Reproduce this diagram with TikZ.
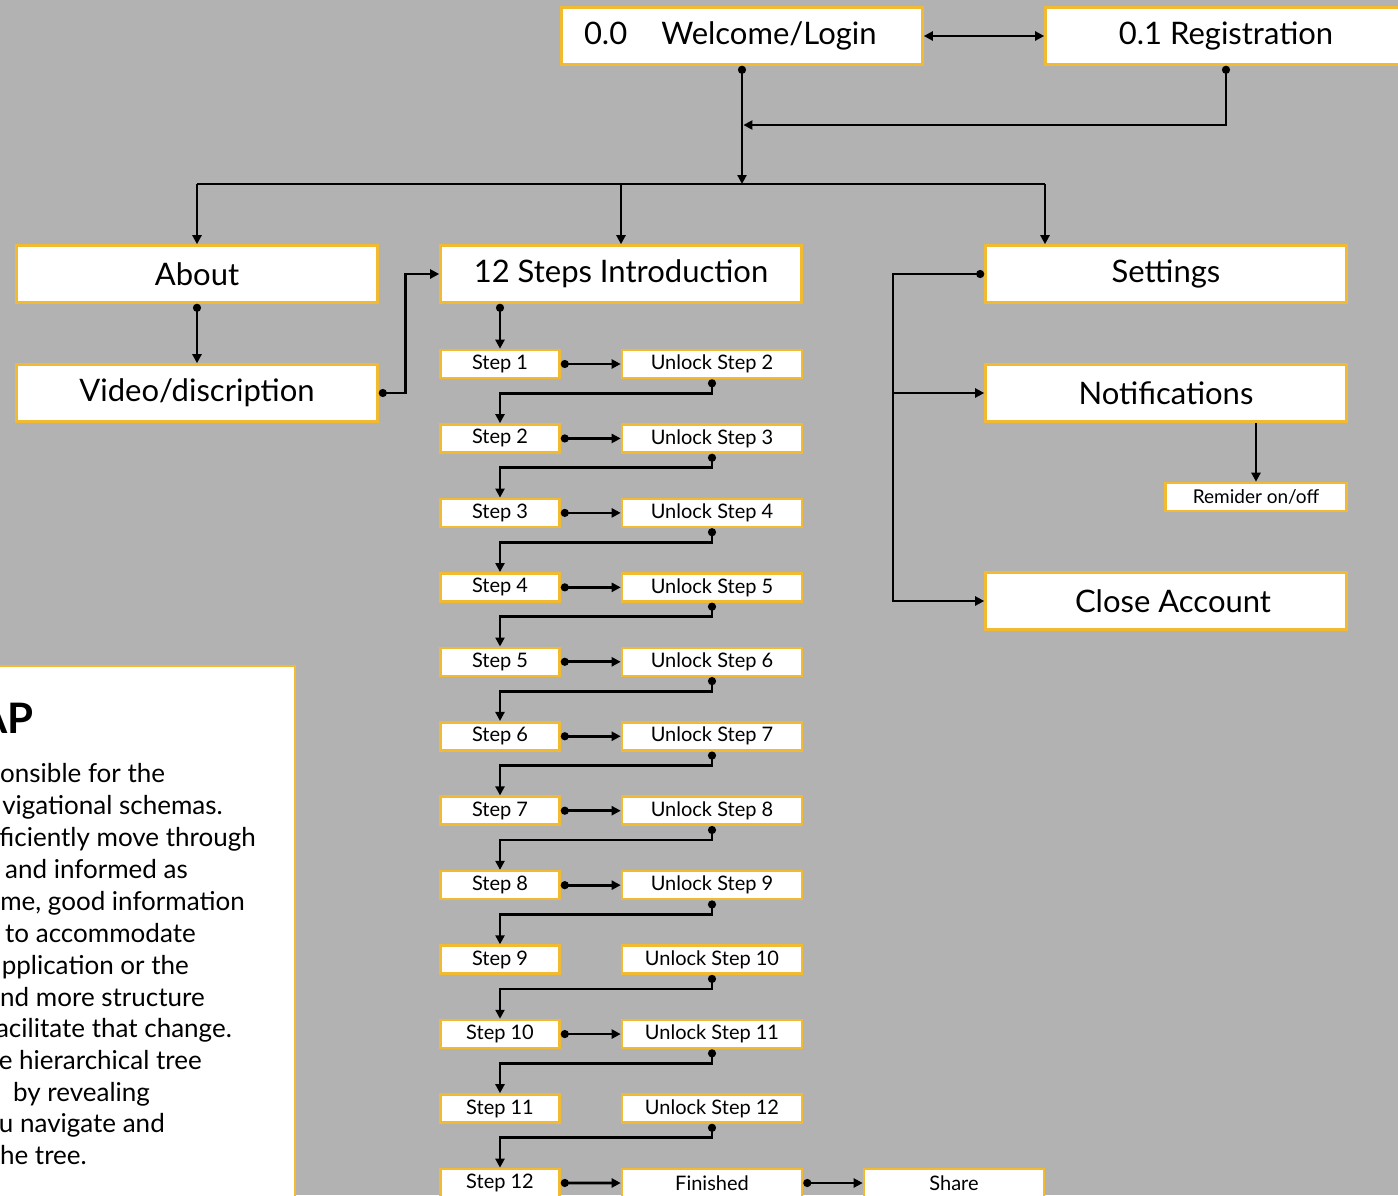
\documentclass[tikz,border=0pt]{standalone}
\usepackage{fontspec}
\setmainfont{Lato}
\usetikzlibrary{arrows.meta,calc}
\definecolor{bgc}{RGB}{178,178,178}
\definecolor{boxor}{RGB}{241,186,48}
\tikzset{
  box/.style={draw=boxor, line width=2.6pt, fill=white, inner sep=0pt, text=black},
  big/.style={box, minimum width=361pt, minimum height=57pt, font=\fontsize{31}{35}\selectfont},
  sm/.style={box, minimum height=28pt, font=\fontsize{20}{22}\selectfont},
  lnk/.style={line width=2.8pt, draw=black},
  conn/.style={lnk, -{Triangle[length=9pt,width=9pt]}},
  dconn/.style={lnk, {Circle[length=8pt]}-{Triangle[length=9pt,width=9pt]}},
  para/.style={anchor=base east, inner sep=0pt, font=\fontsize{26}{30}\selectfont},
  paral/.style={para, anchor=base west},
}
\begin{document}
\begin{tikzpicture}[x=1pt,y=-1pt]
\fill[bgc] (0,0) rectangle (1398,1195);
\useasboundingbox (0,0) rectangle (1398,1195);

% left text panel
\draw[boxor, line width=2.6pt, fill=white] (-20,666) rectangle (295,1220);
\node[anchor=base east, inner sep=0pt, font=\fontsize{42}{46}\selectfont\bfseries] (ttl) at (34,733) {AP};
\node[paral] (p1) at (0,782) {onsible for the};
\node[para] (p2) at (223,814) {vigational schemas.};
\node[para] (p3) at (256,846) {ficiently move through};
\node[paral] (p4) at (5,878) {and informed as};
\node[para] (p5) at (245,910) {me, good information};
\node[paral] (p6) at (5,942) {to accommodate};
\node[para] (p7) at (189,974) {pplication or the};
\node[paral] (p8) at (0,1006) {nd more structure};
\node[para] (p9) at (232,1037) {acilitate that change.};
\node[para] (p10) at (202,1069) {e hierarchical tree};
\node[paral] (p11) at (13,1101) {by revealing};
\node[para] (p12) at (165,1132) {u navigate and};
\node[para] (p13) at (87,1164) {he tree.};

% top boxes
\node[big, text width=316pt, align=left] (wel) at (742,36) {0.0\hspace{1.1em}Welcome/Login};
\node[big] (reg) at (1226,36) {0.1 Registration};

\node[big] (about) at (197,274) {About};
\node[big] (intro) at (621,274) {12 Steps Introduction};
\node[big] (set) at (1166,274) {Settings};
\node[big] (vid) at (197,393) {Video/discription};
\node[big] (noti) at (1166,393) {Notifications};
\node[sm, minimum width=181pt, font=\fontsize{19}{21}\selectfont] (rem) at (1256,497) {Remider on/off};
\node[big] (clo) at (1166,601) {\hspace{14pt}Close Account};

% steps
\foreach \i in {1,...,12}{
  \pgfmathsetmacro\yy{364+(\i-1)*74.45}
  \node[sm, minimum width=119pt] (s\i) at (500,\yy) {Step \i};
}
\foreach \j in {2,...,12}{
  \pgfmathsetmacro\yy{364+(\j-2)*74.45}
  \node[sm, minimum width=180pt] (u\j) at (712,\yy) {Unlock Step \j};
}
\node[sm, minimum width=180pt] (fin) at (712,1183) {Finished};
\node[sm, minimum width=180pt] (share) at (954,1183) {Share};

% connectors top
\draw[lnk, {Triangle[length=9pt,width=9pt]}-{Triangle[length=9pt,width=9pt]}] (wel.east) -- (reg.west);
\coordinate (hub) at (742,184);
\coordinate (sa) at (1045,184);
\coordinate (mj) at (742,125);
\draw[dconn] (wel.south) -- (hub);
\draw[dconn] (reg.south) |- ($(mj)+(1.4,0)$);
\draw[lnk] (about.north |- hub) -- (sa);
\draw[conn] (about.north |- hub) -- (about.north);
\draw[conn] (intro.north |- hub) -- (intro.north);
\draw[conn] (sa) -- (sa |- set.north);

\draw[dconn] (about.south) -- (vid.north);
\draw[dconn] (vid.east) -- ++(27,0) |- (intro.west);

\coordinate (bx) at (893,300);
\draw[dconn] (set.west) -- (set.west -| bx) |- (clo.west);
\draw[conn] (bx |- noti.west) -- (noti.west);
\draw[conn] (rem.north |- noti.south) -- (rem.north);

% steps connectors
\draw[dconn] (intro.south -| s1.north) -- (s1.north);
\foreach \i/\j in {1/2,2/3,3/4,4/5,5/6,6/7,7/8,8/9,10/11}{
  \draw[dconn] (s\i.east) -- (u\j.west);
}
\foreach \i/\j in {1/2,2/3,3/4,4/5,5/6,6/7,7/8,8/9,9/10,10/11,11/12}{
  \draw[dconn] (u\j.south) -- ++(0,14) -| (s\j.north);
}
\draw[dconn] (s12.east) -- (fin.west);
\draw[dconn] (fin.east) -- (share.west);
\end{tikzpicture}
\end{document}
